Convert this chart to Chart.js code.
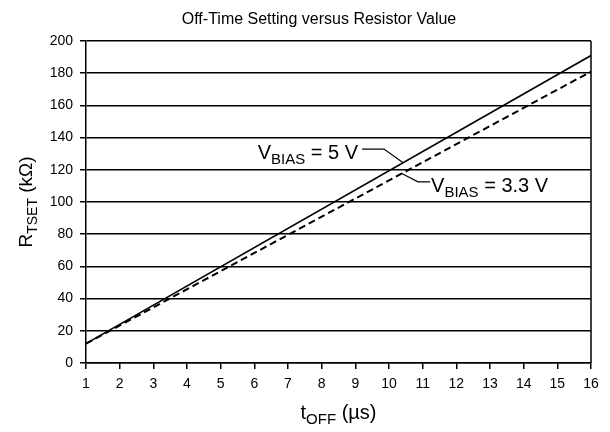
<!DOCTYPE html>
<html>
<head>
<meta charset="utf-8">
<script src="https://cdn.jsdelivr.net/npm/chart.js@4.4.1/dist/chart.umd.min.js"></script>
<style>
html,body{margin:0;padding:0;background:#fff;}
#wrap{width:610px;height:432px;position:relative;}
</style>
</head>
<body>
<div id="wrap"><canvas id="c" width="610" height="432"></canvas></div>
<script>
// ---- data ----
const tOff = [1, 16];                 // µs
const rVbias5 = [12, 191];            // kΩ, VBIAS = 5 V
const rVbias33 = [12, 181];           // kΩ, VBIAS = 3.3 V
const xTicks = [1,2,3,4,5,6,7,8,9,10,11,12,13,14,15,16];
const yTicks = [0,20,40,60,80,100,120,140,160,180,200];
const titleText = 'Off-Time Setting versus Resistor Value';

const FONT = '"Liberation Sans", Arial, sans-serif';

function lerpLine(xs, ys, x){ return ys[0] + (ys[1]-ys[0])*(x-xs[0])/(xs[1]-xs[0]); }

function drawSub(ctx, parts, x, y, align){
  // parts: [text, size, dy]
  let w = 0;
  parts.forEach(p=>{ ctx.font = p[1]+'px '+FONT; w += ctx.measureText(p[0]).width; });
  let cx = align==='center' ? x - w/2 : (align==='right' ? x - w : x);
  ctx.textAlign='left';
  parts.forEach(p=>{ ctx.font = p[1]+'px '+FONT; ctx.fillText(p[0], cx, y + (p[2]||0)); cx += ctx.measureText(p[0]).width; });
}

const deco = {
  id:'deco',
  afterDraw(chart){
    const ctx = chart.ctx, a = chart.chartArea;
    const xs = chart.scales.x, ys = chart.scales.y;
    ctx.save();
    // right border
    ctx.strokeStyle='#000'; ctx.lineWidth=1.5;
    ctx.beginPath(); ctx.moveTo(a.right, a.top); ctx.lineTo(a.right, a.bottom); ctx.stroke();
    ctx.fillStyle='#000';
    ctx.textBaseline='alphabetic';
    // title
    ctx.font='16px '+FONT; ctx.textAlign='center';
    ctx.fillText(titleText, 319, 24);
    // x title
    drawSub(ctx, [['t',20,0],['OFF',15,5],[' (µs)',20,0]], (a.left+a.right)/2, 419, 'center');
    // y title
    ctx.save();
    ctx.translate(32, (a.top+a.bottom)/2);
    ctx.rotate(-Math.PI/2);
    drawSub(ctx, [['R',19,0],['TSET',14,5],[' (kΩ)',19,0]], 0, 0, 'center');
    ctx.restore();
    // annotations
    ctx.lineWidth=1.2;
    const p = (x,y)=>[xs.getPixelForValue(x), ys.getPixelForValue(y)];
    let l1 = [p(9.2,132.9), p(9.85,132.9), p(10.42, lerpLine(tOff,rVbias5,10.42))];
    ctx.beginPath(); ctx.moveTo(l1[0][0],l1[0][1]); ctx.lineTo(l1[1][0],l1[1][1]); ctx.lineTo(l1[2][0],l1[2][1]); ctx.stroke();
    drawSub(ctx, [['V',20,0],['BIAS',15,5],[' = 5 V',20,0]], l1[0][0]-4, l1[0][1]+10, 'right');
    let l2 = [p(10.38, lerpLine(tOff,rVbias33,10.38)), p(10.86,112.5), p(11.22,112.5)];
    ctx.beginPath(); ctx.moveTo(l2[0][0],l2[0][1]); ctx.lineTo(l2[1][0],l2[1][1]); ctx.lineTo(l2[2][0],l2[2][1]); ctx.stroke();
    drawSub(ctx, [['V',20,0],['BIAS',15,5],[' = 3.3 V',20,0]], l2[2][0]+1, l2[2][1]+10, 'left');
    ctx.restore();
  }
};

new Chart(document.getElementById('c'), {
  type:'scatter',
  data:{
    datasets:[
      {label:'VBIAS = 5 V', data:tOff.map((x,i)=>({x, y:rVbias5[i]})), showLine:true, borderColor:'#000', borderWidth:1.6, pointRadius:0, fill:false},
      {label:'VBIAS = 3.3 V', data:tOff.map((x,i)=>({x, y:rVbias33[i]})), showLine:true, borderColor:'#000', borderWidth:2, borderDash:[7,4], pointRadius:0, fill:false}
    ]
  },
  options:{
    responsive:false, animation:false,
    layout:{padding:{top:41, right:19, left:0, bottom:0}},
    plugins:{legend:{display:false}, tooltip:{enabled:false}, title:{display:false}},
    scales:{
      x:{
        type:'linear', min:1, max:16,
        afterBuildTicks(s){ s.ticks = xTicks.map(v=>({value:v})); },
        afterFit(s){ s.height = 69; },
        ticks:{color:'#000', font:{family:FONT, size:14}, padding:7, autoSkip:false, maxRotation:0},
        grid:{drawOnChartArea:false, drawTicks:true, tickLength:6, color:'#000', lineWidth:1.5},
        border:{display:true, color:'#000', width:1.5}
      },
      y:{
        type:'linear', min:0, max:200,
        afterBuildTicks(s){ s.ticks = yTicks.map(v=>({value:v})); },
        afterFit(s){ s.width = 86; },
        ticks:{color:'#000', font:{family:FONT, size:14}, padding:7},
        grid:{drawOnChartArea:true, drawTicks:true, tickLength:6, color:'#000', lineWidth:1.5},
        border:{display:true, color:'#000', width:1.5}
      }
    }
  },
  plugins:[deco]
});
</script>
</body>
</html>
